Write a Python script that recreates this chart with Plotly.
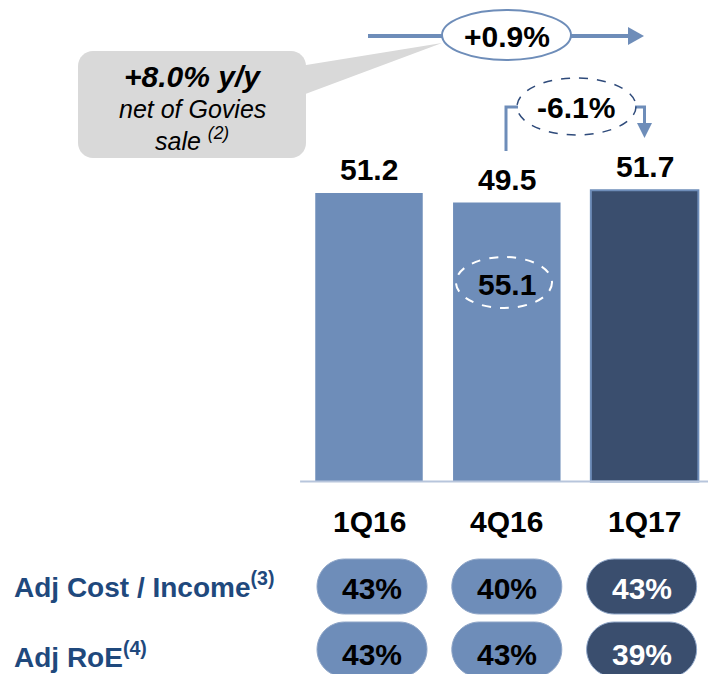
import plotly.graph_objects as go

# ---- data ----
quarters = ["1Q16", "4Q16", "1Q17"]
revenue = [51.2, 49.5, 51.7]
revenue_4q16_gross = 55.1
cost_income = [43, 40, 43]
roe = [43, 43, 39]
yoy_change = "+0.9%"
qoq_change = "-6.1%"
yoy_net = "+8.0% y/y"
row_labels = ["Adj Cost / Income<sup>(3)</sup>", "Adj RoE<sup>(4)</sup>"]

LIGHT = "#6E8DB9"
DARK = "#3A4E6E"
LABEL_BLUE = "#1F497D"
FONT = "Liberation Sans, Arial, sans-serif"

# pixel <-> data helpers (plot area covers the whole 708x674 page)
X0, XSTEP = 369, 137.8
Y0, YSTEP = 481.5, 5.635


def dx(px):
    return (px - X0) / XSTEP


def dy(py):
    return (Y0 - py) / YSTEP


def rounded_path(x_l, x_r, y_t, y_b, r):
    # rounded rectangle given in pixels -> svg path in data coords
    k = 0.5523

    def P(x, y):
        return f"{dx(x):.5f},{dy(y):.5f}"

    return " ".join([
        f"M{P(x_l + r, y_t)}",
        f"L{P(x_r - r, y_t)}",
        f"C{P(x_r - r + k * r, y_t)} {P(x_r, y_t + r - k * r)} {P(x_r, y_t + r)}",
        f"L{P(x_r, y_b - r)}",
        f"C{P(x_r, y_b - r + k * r)} {P(x_r - r + k * r, y_b)} {P(x_r - r, y_b)}",
        f"L{P(x_l + r, y_b)}",
        f"C{P(x_l + r - k * r, y_b)} {P(x_l, y_b - r + k * r)} {P(x_l, y_b - r)}",
        f"L{P(x_l, y_t + r)}",
        f"C{P(x_l, y_t + r - k * r)} {P(x_l + r - k * r, y_t)} {P(x_l + r, y_t)}",
        "Z",
    ])


def poly_path(points):
    return "M" + " L".join(f"{dx(x):.5f},{dy(y):.5f}" for x, y in points) + " Z"


def line_path(points):
    return "M" + " L".join(f"{dx(x):.5f},{dy(y):.5f}" for x, y in points)


fig = go.Figure()

fig.add_trace(
    go.Bar(
        x=list(range(len(quarters))),
        y=revenue,
        width=0.78,
        marker={"color": [LIGHT, LIGHT, DARK],
                "line": {"color": LIGHT, "width": [0, 0, 2]}},
        hoverinfo="skip",
    )
)

shapes = []
annotations = []

# baseline under the bars
shapes.append(dict(type="line", xref="x", yref="y", x0=-0.5, x1=dx(708), y0=0, y1=0,
                   line=dict(color="#B7C5DC", width=2), layer="above"))

# bar value labels and category labels
for i, (q, v) in enumerate(zip(quarters, revenue)):
    annotations.append(dict(x=i, y=v, text=f"<b>{v}</b>", showarrow=False, yanchor="bottom",
                            yshift=5, font=dict(size=30, color="black", family=FONT)))
    annotations.append(dict(x=i, y=0, text=f"<b>{q}</b>", showarrow=False, yanchor="middle",
                            yshift=-40, font=dict(size=30, color="black", family=FONT)))

# 4Q16 gross value in dashed white ellipse
shapes.append(dict(type="circle", xref="x", yref="y", x0=dx(456), x1=dx(552), y0=dy(308), y1=dy(257),
                   line=dict(color="white", width=2, dash="dash")))
annotations.append(dict(x=1, y=dy(284), text=f"<b>{revenue_4q16_gross}</b>", showarrow=False,
                        font=dict(size=30, color="black", family=FONT)))

# grey callout with tail
shapes.append(dict(type="path", path=poly_path([(300, 66), (442, 43), (300, 96)]),
                   fillcolor="#D9D9D9", line=dict(width=0)))
shapes.append(dict(type="path", path=rounded_path(78, 306, 51, 158, 15),
                   fillcolor="#D9D9D9", line=dict(width=0)))
annotations.append(dict(x=dx(192), y=dy(76), text=f"<b><i>{yoy_net}</i></b>", showarrow=False,
                        font=dict(size=30, color="black", family=FONT)))
annotations.append(dict(x=dx(192), y=dy(109), text="<i>net of Govies</i>", showarrow=False,
                        font=dict(size=25, color="black", family=FONT)))
annotations.append(dict(x=dx(192), y=dy(139), text="<i>sale <sup>(2)</sup></i>", showarrow=False,
                        font=dict(size=25, color="black", family=FONT)))

# top y/y arrow with ellipse
shapes.append(dict(type="path", path=line_path([(368, 36), (630, 36)]),
                   line=dict(color=LIGHT, width=4)))
shapes.append(dict(type="path", path=poly_path([(628, 27), (644, 36), (628, 45)]),
                   fillcolor=LIGHT, line=dict(width=0)))
shapes.append(dict(type="circle", xref="x", yref="y", x0=dx(442), x1=dx(571), y0=dy(60), y1=dy(10),
                   fillcolor="white", line=dict(color=LIGHT, width=2)))
annotations.append(dict(x=dx(507), y=dy(36), text=f"<b>{yoy_change}</b>", showarrow=False,
                        font=dict(size=30, color="black", family=FONT)))

# q/q bracket arrow with dashed ellipse
shapes.append(dict(type="path", path=line_path([(506, 151), (506, 107), (518, 107)]),
                   line=dict(color=LIGHT, width=3)))
shapes.append(dict(type="path", path=line_path([(635, 107), (644.5, 107), (644.5, 124)]),
                   line=dict(color=LIGHT, width=3)))
shapes.append(dict(type="path", path=poly_path([(637, 123), (652, 123), (644.5, 138)]),
                   fillcolor=LIGHT, line=dict(width=0)))
shapes.append(dict(type="circle", xref="x", yref="y", x0=dx(517), x1=dx(636), y0=dy(135), y1=dy(78),
                   line=dict(color="#2E4A7A", width=1.5, dash="dash")))
annotations.append(dict(x=dx(576), y=dy(107), text=f"<b>{qoq_change}</b>", showarrow=False,
                        font=dict(size=30, color="black", family=FONT)))

# KPI rows: label + pills
row_centres = [586.5, 649.5]
row_text = [588, 654]
row_label_y = [585, 655]
for r, (vals, label) in enumerate(zip([cost_income, roe], row_labels)):
    annotations.append(dict(x=dx(12), y=dy(row_label_y[r]), text=f"<b>{label}</b>", showarrow=False,
                            xanchor="left", font=dict(size=28, color=LABEL_BLUE, family=FONT)))
    for i, v in enumerate(vals):
        cx = X0 + i * XSTEP + (3 - 3 * i)
        fill = DARK if i == 2 else LIGHT
        txt = "white" if i == 2 else "black"
        shapes.append(dict(type="path",
                           path=rounded_path(cx - 55, cx + 55, row_centres[r] - 27.5,
                                             row_centres[r] + 27.5, 27.5),
                           fillcolor=fill, line=dict(color="#8FA6C8", width=1)))
        annotations.append(dict(x=dx(cx), y=dy(row_text[r]), text=f"<b>{v}%</b>", showarrow=False,
                                font=dict(size=30, color=txt, family=FONT)))

fig.update_layout(
    width=708,
    height=674,
    margin=dict(l=0, r=0, t=0, b=0),
    plot_bgcolor="white",
    paper_bgcolor="white",
    showlegend=False,
    shapes=shapes,
    annotations=annotations,
    xaxis=dict(range=[dx(0), dx(708)], visible=False, fixedrange=True),
    yaxis=dict(range=[dy(674), dy(0)], visible=False, fixedrange=True),
)

# the page body has a default 8px margin; drop it so the figure sits at the corner
fig.write_html("out.html", config={"displayModeBar": False},
               post_script="document.body.style.margin='0';document.body.style.overflow='hidden';")
